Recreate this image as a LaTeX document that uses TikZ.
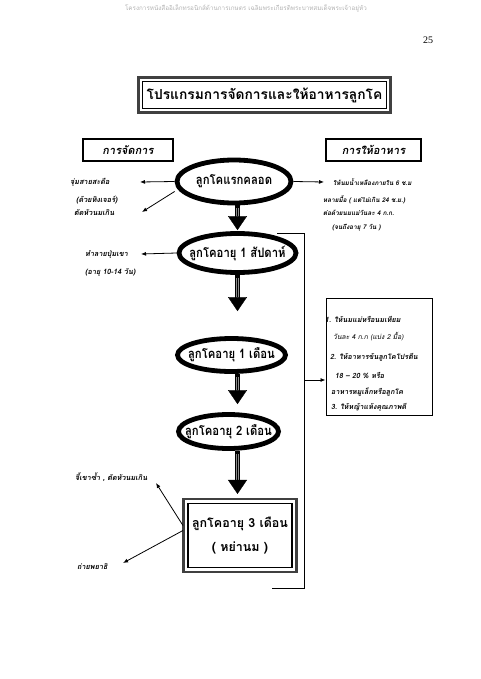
\documentclass[tikz,border=0pt]{standalone}
\usepackage{fontspec}
\setmainfont{Liberation Serif}
\newfontfamily\thai[Script=Thai]{Loma}
\newfontfamily\thaicond[Script=Thai,FakeStretch=0.87]{Loma}
\newfontfamily\thaiit[Script=Thai,FakeSlant=0.18]{Loma}
\usetikzlibrary{shapes.geometric,arrows.meta,calc}
\tikzset{
  ell/.style={ellipse, draw, line width=4.8pt, inner xsep=-20pt, inner ysep=-8pt, font=\thaicond\bfseries\fontsize{13}{15}\selectfont},
  small/.style={font=\thaiit\bfseries\fontsize{7.3}{8}\selectfont, inner sep=0pt, anchor=west},
  rsmall/.style={font=\thaiit\bfseries\fontsize{6.4}{7}\selectfont, inner sep=0pt, anchor=west},
  boxtxt/.style={font=\thaiit\bfseries\fontsize{7.2}{8}\selectfont, inner sep=0pt, anchor=west},
  headbox/.style={draw, line width=1.8pt, inner sep=0pt, font=\thaiit\bfseries\fontsize{11}{13}\selectfont},
  thin/.style={line width=0.8pt, -{Latex[length=5pt,width=4pt]}},
  shaftout/.style={line width=5.5pt},
  shaftin/.style={line width=2.4pt, black!45},
  bighead/.style={line width=0.3pt, -{Triangle[length=14pt,width=19pt]}},
  frameline/.style={line width=1.1pt}
}
\begin{document}
\begin{tikzpicture}[x=1pt,y=-1pt]
\useasboundingbox (0,0) rectangle (480,679);
% header and page number
\node[font=\thai\fontsize{6.3}{7}\selectfont, text=black!30, inner sep=0pt] (hdr) at (246,8) {โครงการหนังสืออิเล็กทรอนิกส์ด้านการเกษตร เฉลิมพระเกียรติพระบาทสมเด็จพระเจ้าอยู่หัว};
\node[font=\fontsize{10}{12}\selectfont, inner sep=0pt] (pg) at (428,40) {25};
% title
\node[draw, frameline, minimum width=244pt, minimum height=27pt, inner sep=0pt,
      font=\thai\bfseries\fontsize{13.8}{16}\selectfont] (title) at (264.5,95) {โปรแกรมการจัดการและให้อาหารลูกโค};
\draw[line width=2.6pt, black!75] ([shift={(-3.6,-3.6)}]title.north west) rectangle ([shift={(3.6,3.6)}]title.south east);
% section headers
\node[headbox, minimum width=90pt, minimum height=22pt] (mg) at (128,150) {การจัดการ};
\node[headbox, minimum width=95pt, minimum height=22pt] (fd) at (373.5,150) {การให้อาหาร};
% ellipses
\coordinate (col) at (237.5,0);
\node[ell, minimum width=114pt, minimum height=43pt] (e1) at (234,181.5) {ลูกโคแรกคลอด};
\node[ell, minimum width=117pt, minimum height=39pt] (e2) at (237.5,253) {ลูกโคอายุ 1 สัปดาห์};
\node[ell, minimum width=108pt, minimum height=33pt] (e3) at (231.5,355) {ลูกโคอายุ 1 เดือน};
\node[ell, minimum width=100pt, minimum height=34pt] (e4) at (228.5,431.5) {ลูกโคอายุ 2 เดือน};
% weaning box
\node[draw, frameline, minimum width=104pt, minimum height=64pt, inner sep=0pt, align=center,
      font=\thai\bfseries\fontsize{12.5}{15}\selectfont] (wb) at (240,535.5) {ลูกโคอายุ 3 เดือน\\[9pt]( หย่านม )};
\draw[line width=2.6pt, black!75] ([shift={(-3.8,-3.8)}]wb.north west) rectangle ([shift={(3.8,3.8)}]wb.south east);
% big arrows
\newcommand\bigarrow[3]{%
  \draw[shaftout, shorten >=#3pt+12pt] (#1.south -| col) -- (#2.north -| col);
  \draw[shaftin, shorten >=#3pt+13pt, shorten <=3pt] (#1.south -| col) -- (#2.north -| col);
  \draw[bighead, shorten >=#3pt] (#1.south -| col) -- (#2.north -| col);}
\bigarrow{e1}{e2}{1}
\bigarrow{e2}{e3}{25}
\bigarrow{e3}{e4}{8}
\bigarrow{e4}{wb}{9}
% left texts
\node[small] (t1) at (70,182) {จุ่มสายสะดือ};
\node[small] (t2) at (76,200) {(ด้วยทิงเจอร์)};
\node[small] (t3) at (74,213) {ตัดหัวนมเกิน};
\node[small] (t4) at (85,254) {ทำลายปุ่มเขา};
\node[small] (t5) at (85,273) {(อายุ 10-14 วัน)};
\node[small] (t6) at (75,477) {จี้เขาซ้ำ , ตัดหัวนมเกิน};
\node[small] (t7) at (77,567) {ถ่ายพยาธิ};
\coordinate (a1) at (140,182);
\coordinate (a2) at (142,212);
\coordinate (a3) at (141,254);
\coordinate (a4) at (156,483);
\coordinate (a5) at (123,563);
\draw[thin] (e1.west) -- (a1);
\draw[thin] ($(e1.west)+(0,10)$) -- (a2);
\draw[thin] (e2.west) -- (a3);
\draw[thin] ($(wb.west)+(-4.5,-10)$) -- (a4);
\draw[thin] ($(wb.west)+(-4.5,-5)$) -- (a5);
% right texts
\node[rsmall] (r1) at (333,182) {ให้นมน้ำเหลืองภายใน 6 ช.ม};
\node[rsmall] (r2) at (323,200) {หลายมื้อ ( แต่ไม่เกิน 24 ช.ม.)};
\node[rsmall] (r3) at (323,213) {ต่อด้วยนมแม่วันละ 4 ก.ก.};
\node[rsmall] (r4) at (332,228) {(จนถึงอายุ 7 วัน )};
\draw[thin] (e1.east) -- ($(r1.west)+(-9,0)$);
% right box
\node[draw, line width=1pt, minimum width=106pt, minimum height=117pt, inner sep=0pt] (rb) at (379,356.5) {};
\node[boxtxt] (b1) at (325,319) {1. ให้นมแม่หรือนมเทียม};
\node[boxtxt, font=\thaiit\fontsize{6.8}{7}\selectfont] (b2) at (333,337) {วันละ 4 ก.ก (แบ่ง 2 มื้อ)};
\node[boxtxt] (b3) at (330,357) {2. ให้อาหารข้นลูกโคโปรตีน};
\node[boxtxt] (b4) at (335,376) {18 – 20 \% หรือ};
\node[boxtxt] (b5) at (331,392) {อาหารหมูเล็กหรือลูกโค};
\node[boxtxt] (b6) at (331,407) {3. ให้หญ้าแห้งคุณภาพดี};
% bracket
\coordinate (bt) at (277,233);
\coordinate (bb) at (272,588);
\coordinate (bx) at (304,0);
\draw[line width=1pt] (bt) -- (bt -| bx) -- (bb -| bx) -- (bb);
\draw[thin] (rb.west -| bx) ++(0,23.5) coordinate (ra) -- (ra -| rb.west);
\end{tikzpicture}
\end{document}
